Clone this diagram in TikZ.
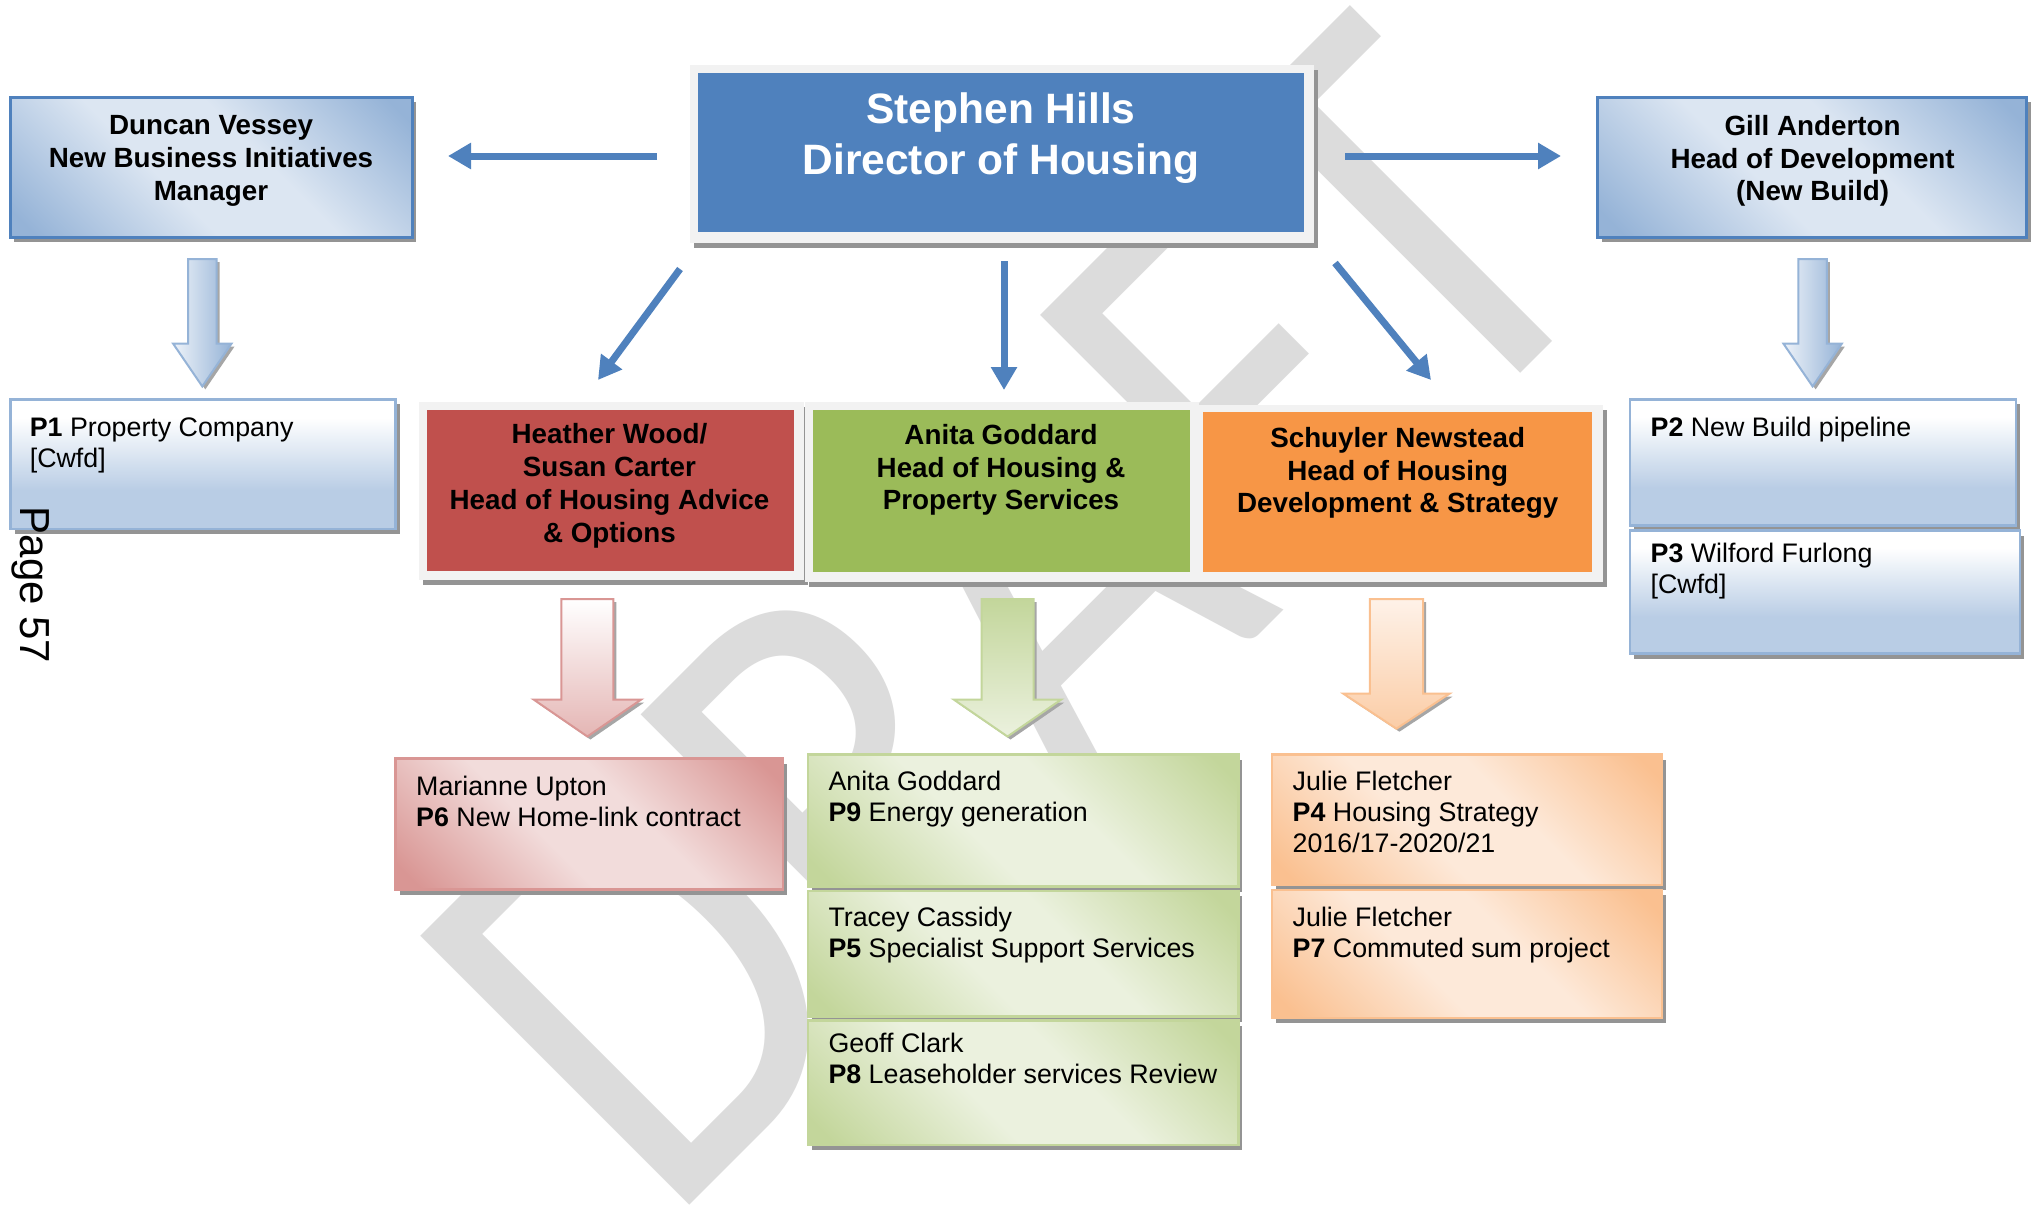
\documentclass[tikz,border=0pt]{standalone}
\usepackage{fontspec}
\setmainfont{Liberation Sans}
\newfontfamily\wmfont{Carlito}
\usetikzlibrary{arrows.meta,shadows,calc}

% palette
\definecolor{hblue}{HTML}{4F81BD}
\definecolor{hbluelt}{HTML}{DCE6F2}
\definecolor{hbluemd}{HTML}{95B3D7}
\definecolor{hbluepale}{HTML}{B9CDE5}
\definecolor{hred}{HTML}{C0504D}
\definecolor{hredmd}{HTML}{D99694}
\definecolor{hredlt}{HTML}{F2DCDB}
\definecolor{hgreen}{HTML}{9BBB59}
\definecolor{hgreenmd}{HTML}{C3D69B}
\definecolor{hgreenlt}{HTML}{EBF1DE}
\definecolor{horange}{HTML}{F79646}
\definecolor{horangemd}{HTML}{FAC090}
\definecolor{horangelt}{HTML}{FDE9D9}
\definecolor{hframe}{HTML}{F2F2F2}
\definecolor{wmgrey}{HTML}{DCDCDC}

% diagonal two-tone gradients (dark corners, light middle)
\pgfdeclarehorizontalshading{bluediag}{100bp}{color(0bp)=(hbluemd); color(18bp)=(hbluemd); color(42bp)=(hbluelt); color(58bp)=(hbluelt); color(82bp)=(hbluemd); color(100bp)=(hbluemd)}
\pgfdeclarehorizontalshading{reddiag}{100bp}{color(0bp)=(hredmd); color(18bp)=(hredmd); color(42bp)=(hredlt); color(58bp)=(hredlt); color(82bp)=(hredmd); color(100bp)=(hredmd)}
\pgfdeclarehorizontalshading{greendiag}{100bp}{color(0bp)=(hgreenmd); color(18bp)=(hgreenmd); color(42bp)=(hgreenlt); color(58bp)=(hgreenlt); color(82bp)=(hgreenmd); color(100bp)=(hgreenmd)}
\pgfdeclarehorizontalshading{orangediag}{100bp}{color(0bp)=(horangemd); color(18bp)=(horangemd); color(42bp)=(horangelt); color(58bp)=(horangelt); color(82bp)=(horangemd); color(100bp)=(horangemd)}
% white top fading to pale blue at the bottom
\pgfdeclareverticalshading{pblue}{100bp}{color(0bp)=(hbluepale); color(25bp)=(hbluepale); color(40bp)=(hbluepale); color(68bp)=(white); color(100bp)=(white)}

% block arrow between two points: style, from, tip, shaft half width, head half width, head length
\newcommand\blockarrow[6]{%
  \path[#1] ($(#2)+(-#4,0)$) -- ($(#3)+(-#4,-#6)$) -- ($(#3)+(-#5,-#6)$) -- (#3)
    -- ($(#3)+(#5,-#6)$) -- ($(#3)+(#4,-#6)$) -- ($(#2)+(#4,0)$) -- cycle;}

\tikzset{
  every node/.style={inner sep=0pt, outer sep=0pt},
  boxshadow/.style={drop shadow={shadow xshift=4pt, shadow yshift=-5pt, fill=black!42, opacity=1}},
  headbox/.style={rectangle, draw=hblue, line width=3pt, shade, shading=bluediag, shading angle=45, boxshadow},
  framebox/.style={rectangle, fill=hframe, boxshadow},
  rolebox/.style={rectangle, fill=#1},
  pbluebox/.style={rectangle, draw=hbluemd, line width=2.5pt, shade, shading=pblue, boxshadow},
  diagbox/.style={rectangle, draw=h#1md, line width=2.5pt, shade, shading=#1diag, shading angle=45, boxshadow},
  hdr/.style={font=\fontsize{27.8}{32.8}\selectfont\bfseries, align=center},
  dirtext/.style={font=\fontsize{42.5}{50.6}\selectfont\bfseries, text=white, align=center},
  body/.style={font=\fontsize{26.8}{31}\selectfont, align=left, anchor=north west},
  conn/.style={draw=hblue, line width=7pt, -{Triangle[length=23pt,width=25pt]}},
  barrow/.style={draw=#1, line width=2pt, drop shadow={shadow xshift=3pt, shadow yshift=-3pt, fill=black!35, opacity=1}},
}

\begin{document}
\begin{tikzpicture}[x=1pt,y=-1pt]
\useasboundingbox (0,0) rectangle (2033,1204);
\fill[white] (0,0) rectangle (2033,1204);

% watermark
\node[rotate=45, anchor=base west, text=wmgrey] (draft) at (665,1229)
  {\scalebox{0.852}[1]{\wmfont\fontsize{593}{593}\selectfont DRAFT}};

% top row
\node[framebox, minimum width=623.7pt, minimum height=177.7pt] (dirframe) at (1001.7,153.7) {};
\node[rolebox=hblue, minimum width=606.8pt, minimum height=159.5pt] (dir) at (1001,152.4) {};
\node[dirtext] (dirT) at (1001,138) {Stephen Hills\\Director of Housing};

\node[headbox, minimum width=402pt, minimum height=140pt] (duncan) at (211.4,167.3) {};
\node[hdr] (duncanT) at (211,161) {Duncan Vessey\\New Business Initiatives\\Manager};

\node[headbox, minimum width=429pt, minimum height=140pt] (gill) at (1812,167.3) {};
\node[hdr] (gillT) at (1812.6,161) {Gill Anderton\\Head of Development\\(New Build)};

% second row
\node[pbluebox, minimum width=385pt, minimum height=129.6pt] (p1) at (203,464.2) {};
\node[body] (p1T) at (29.8,417.5) {\textbf{P1} Property Company\\{}[Cwfd]};

\node[pbluebox, minimum width=386.4pt, minimum height=126.1pt] (p2) at (1823,462.45) {};
\node[body] (p2T) at (1650.6,417.5) {\textbf{P2} New Build pipeline};
\node[pbluebox, minimum width=390.3pt, minimum height=123pt] (p3) at (1824.95,592) {};
\node[body] (p3T) at (1650.6,543) {\textbf{P3} Wilford Furlong\\{}[Cwfd]};

\node[framebox, minimum width=385.1pt, minimum height=177.7pt] (redframe) at (611.4,490.8) {};
\node[rolebox=hred, minimum width=366.9pt, minimum height=160.8pt] (red) at (610.1,490.1) {};
\node[hdr] (redT) at (609.4,486) {Heather Wood/\\Susan Carter\\Head of Housing Advice\\\& Options};

\node[framebox, minimum width=394pt, minimum height=180pt] (greenframe) at (1002,492) {};
\node[rolebox=hgreen, minimum width=377.3pt, minimum height=162.1pt] (green) at (1001.7,490.8) {};
\node[hdr] (greenT) at (1001,470) {Anita Goddard\\Head of Housing \&\\Property Services};

\node[framebox, minimum width=407pt, minimum height=177.5pt] (orangeframe) at (1399.5,493.3) {};
\node[rolebox=horange, minimum width=389pt, minimum height=159.5pt] (orange) at (1397.7,492) {};
\node[hdr] (orangeT) at (1397.7,473) {Schuyler Newstead\\Head of Housing\\Development \& Strategy};

% project boxes
\node[diagbox=red, minimum width=387.6pt, minimum height=131pt] (p6) at (589.3,824) {};
\node[body] (p6T) at (416.2,776.5) {Marianne Upton\\\textbf{P6} New Home-link contract};

\node[diagbox=green, minimum width=430.5pt, minimum height=131.9pt] (p9) at (1023.05,820.55) {};
\node[body] (p9T) at (828.5,771.5) {Anita Goddard\\\textbf{P9} Energy generation};
\node[diagbox=green, minimum width=430.5pt, minimum height=125.5pt] (p5) at (1023.05,953.75) {};
\node[body] (p5T) at (828.5,907.5) {Tracey Cassidy\\\textbf{P5} Specialist Support Services};
\node[diagbox=green, minimum width=430.5pt, minimum height=124.5pt] (p8) at (1023.05,1082.75) {};
\node[body] (p8T) at (828.5,1033) {Geoff Clark\\\textbf{P8} Leaseholder services Review};

\node[diagbox=orange, minimum width=390.2pt, minimum height=130.4pt] (p4) at (1467.1,819.8) {};
\node[body] (p4T) at (1292.7,771.5) {Julie Fletcher\\\textbf{P4} Housing Strategy\\2016/17-2020/21};
\node[diagbox=orange, minimum width=390.2pt, minimum height=127.8pt] (p7) at (1467.1,953.9) {};
\node[body] (p7T) at (1292.7,907.5) {Julie Fletcher\\\textbf{P7} Commuted sum project};

% page number in the margin
\node[font=\fontsize{42}{42}\selectfont, rotate=-90] (pagelabel) at (31,585) {Page 57};

% reporting lines from the director
\draw[conn] ($(dirframe.west)+(-32.85,2.3)$) -- ($(duncan.east)+(35.6,-11.3)$);
\draw[conn] ($(dirframe.east)+(31.45,2.3)$) -- ($(gill.west)+(-36.5,-11.3)$);
\draw[conn] ($(dirframe.south west)+(-9.85,26.45)$) -- ($(redframe.north)+(-13.4,-21.95)$);
\draw[conn] ($(dirframe.south)+(2.3,18.45)$) -- ($(greenframe.north)+(2,-12)$);
\draw[conn] ($(dirframe.south east)+(21.45,20.45)$) -- ($(orangeframe.north)+(31.5,-24.55)$);

% block arrows down to the projects
\coordinate (bDs) at ($(duncan.south)+(-9.1,21.7)$);
\coordinate (bDe) at ($(p1.north)+(-0.7,-13)$);
\coordinate (bGs) at ($(gill.south)+(0.6,21.7)$);
\coordinate (bGe) at ($(p2.north)+(-10.4,-13)$);
\coordinate (bRs) at ($(redframe.south)+(-24,19.35)$);
\coordinate (bRe) at ($(p6.north)+(-1.9,-22)$);
\coordinate (bNs) at ($(greenframe.south)+(5.5,17)$);
\coordinate (bNe) at ($(p9.north)+(-15.55,-18.1)$);
\coordinate (bOs) at ($(orangeframe.south)+(-3.1,16.95)$);
\coordinate (bOe) at ($(p4.north)+(-70.7,-25.9)$);

\blockarrow{barrow=hbluemd, left color=hbluelt!50!white, right color=hbluemd}{bDs}{bDe}{14.3}{29.2}{42.8}
\blockarrow{barrow=hbluemd, left color=hbluelt!50!white, right color=hbluemd}{bGs}{bGe}{14.3}{29.2}{42.8}
\blockarrow{barrow=hredmd, top color=white, bottom color=hredmd!70!white}{bRs}{bRe}{26}{53.8}{37}
\blockarrow{barrow=hgreenmd, top color=hgreenmd, bottom color=hgreenlt}{bNs}{bNe}{26}{53.8}{37}
\blockarrow{barrow=horangemd, top color=horangelt!60!white, bottom color=horangemd!80!white}{bOs}{bOe}{26.6}{53}{35}
\end{tikzpicture}
\end{document}
